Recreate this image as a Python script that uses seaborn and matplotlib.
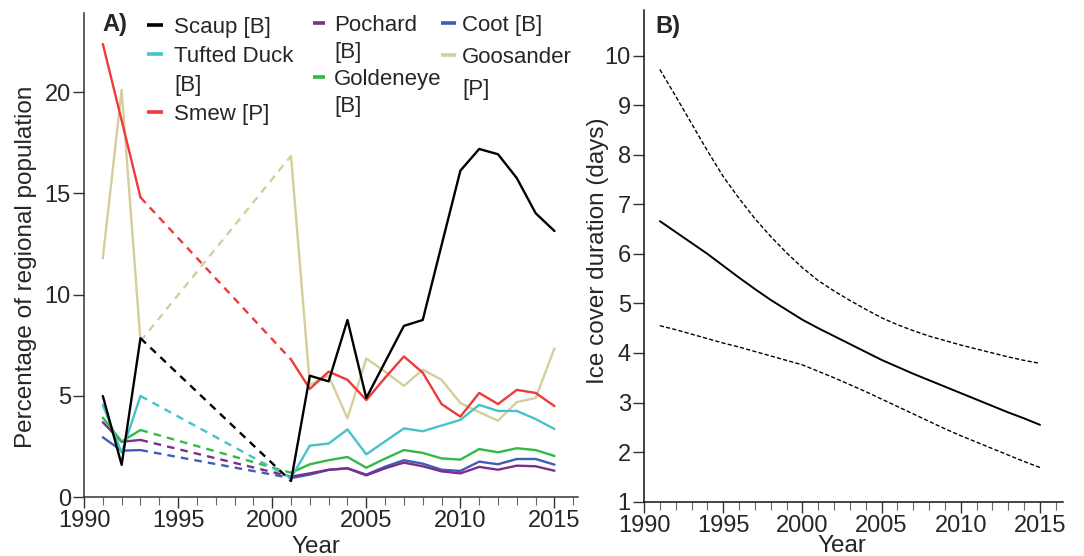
import matplotlib
matplotlib.use("Agg")
import matplotlib.pyplot as plt
import seaborn as sns
import pandas as pd
from matplotlib.lines import Line2D
from matplotlib.ticker import MultipleLocator

# ---------------- data ----------------
years = [1991, 1992, 1993, 2001, 2002, 2003, 2004, 2005, 2006, 2007, 2008,
         2009, 2010, 2011, 2012, 2013, 2014, 2015]
scaup = [5.0, 1.6, 7.85, 0.8, 6.0, 5.72, 8.75, 4.9, 6.68, 8.46, 8.75,
         12.44, 16.12, 17.19, 16.93, 15.75, 14.02, 13.14]
tufted = [4.56, 2.2, 5.0, 0.95, 2.55, 2.65, 3.35, 2.12, 2.76, 3.40, 3.26,
          3.54, 3.82, 4.56, 4.26, 4.26, 3.86, 3.37]
smew = [22.37, 18.6, 14.8, 6.8, 5.35, 6.2, 5.8, 4.8, 5.9, 6.95, 6.15,
        4.6, 3.98, 5.15, 4.6, 5.3, 5.15, 4.5]
pochard = [3.7, 2.74, 2.83, 1.02, 1.18, 1.36, 1.43, 1.08, 1.43, 1.71, 1.53,
           1.28, 1.18, 1.50, 1.36, 1.56, 1.53, 1.31]
goldeneye = [3.93, 2.75, 3.32, 1.21, 1.63, 1.83, 1.99, 1.46, 1.91, 2.33, 2.19,
             1.92, 1.86, 2.38, 2.22, 2.42, 2.33, 2.04]
coot = [2.96, 2.3, 2.33, 0.95, 1.12, 1.35, 1.43, 1.12, 1.51, 1.83, 1.66,
        1.36, 1.30, 1.76, 1.63, 1.89, 1.89, 1.61]
goosander = [11.8, 20.1, 7.7, 16.85, 5.55, 6.0, 3.9, 6.85, 6.2, 5.5, 6.3,
             5.8, 4.65, 4.2, 3.78, 4.7, 4.9, 7.35]

species_names = ["Scaup [B]", "Tufted Duck [B]", "Smew [P]", "Pochard [B]",
                 "Goldeneye [B]", "Coot [B]", "Goosander [P]"]
species_colors = ["#000000", "#45C3C8", "#EE3A3A", "#7D2E8D",
                  "#33B947", "#3F5DB6", "#D5CE9C"]

ice_years = list(range(1991, 2016))
ice_fit = [6.66, 6.44, 6.22, 6.00, 5.76, 5.52, 5.29, 5.07, 4.87, 4.67,
           4.50, 4.34, 4.18, 4.02, 3.86, 3.72, 3.58, 3.45, 3.32, 3.19,
           3.06, 2.93, 2.80, 2.68, 2.55]
ice_upper = [9.72, 9.18, 8.63, 8.08, 7.56, 7.12, 6.71, 6.35, 6.02, 5.72,
             5.46, 5.25, 5.06, 4.88, 4.71, 4.57, 4.45, 4.34, 4.25, 4.16,
             4.08, 4.00, 3.92, 3.85, 3.79]
ice_lower = [4.55, 4.47, 4.38, 4.29, 4.20, 4.12, 4.03, 3.94, 3.85, 3.76,
             3.63, 3.50, 3.36, 3.22, 3.07, 2.92, 2.77, 2.62, 2.47, 2.33,
             2.20, 2.07, 1.94, 1.81, 1.69]

# ---------------- style ----------------
sns.set_style("ticks")
plt.rcParams["font.family"] = ["Liberation Sans", "DejaVu Sans"]
plt.rcParams["axes.linewidth"] = 1.1

fig = plt.figure(figsize=(10.84, 5.56), dpi=100)
axA = fig.add_axes([0.0775, 0.1056, 0.4557, 0.8710])
axB = fig.add_axes([0.5941, 0.0977, 0.3865, 0.8844])

TICK_FS = 17
LABEL_FS = 17.5

# ---------------- panel A ----------------
series = [scaup, tufted, smew, pochard, goldeneye, coot, goosander]
draw_order = [6, 2, 5, 3, 4, 1, 0]
for i in draw_order:
    df = pd.DataFrame({"year": years, "value": series[i]})
    c = species_colors[i]
    for part, ls in ((df.iloc[0:3], "-"), (df.iloc[2:4], (0, (3.2, 2.6))),
                     (df.iloc[3:], "-")):
        sns.lineplot(data=part, x="year", y="value", color=c, lw=1.7,
                     ax=axA, estimator=None, sort=False, linestyle=ls)

axA.set_xlim(1990, 2016.25)
axA.set_ylim(0, 23.9)
axA.set_xticks([1990, 1995, 2000, 2005, 2010, 2015])
axA.xaxis.set_minor_locator(MultipleLocator(1))
axA.set_yticks([0, 5, 10, 15, 20])

# ---------------- panel B ----------------
dfB = pd.DataFrame({"year": ice_years, "fit": ice_fit,
                    "upper": ice_upper, "lower": ice_lower})
sns.lineplot(data=dfB, x="year", y="fit", color="black", lw=1.4, ax=axB)
sns.lineplot(data=dfB, x="year", y="upper", color="black", lw=1.0, ax=axB,
             linestyle=(0, (3, 1.6)))
sns.lineplot(data=dfB, x="year", y="lower", color="black", lw=1.0, ax=axB,
             linestyle=(0, (3, 1.6)))
axB.set_xlim(1990, 2016.45)
axB.set_ylim(1, 10.92)
axB.set_xticks([1990, 1995, 2000, 2005, 2010, 2015])
axB.xaxis.set_minor_locator(MultipleLocator(1))
axB.set_yticks(list(range(1, 11)))

for ax, spc in ((axA, "#333333"), (axB, "#111111")):
    sns.despine(ax=ax)
    for s in ("left", "bottom"):
        ax.spines[s].set_color(spc)
        ax.spines[s].set_linewidth(1.1)
    ax.tick_params(axis="both", which="major", labelsize=TICK_FS, length=8,
                   width=1.0, color="#333333", pad=1.5)
    ax.tick_params(axis="x", which="minor", length=5.5, width=0.8,
                   color="#666666")
    ax.tick_params(axis="y", which="minor", left=False)

axA.set_xlabel("Year", fontsize=LABEL_FS)
axA.xaxis.set_label_coords(0.47, -0.079)
axA.set_ylabel("Percentage of regional population", fontsize=LABEL_FS)
axA.yaxis.set_label_coords(-0.095, 0.475)

axB.set_xlabel("Year", fontsize=LABEL_FS)
axB.xaxis.set_label_coords(0.473, -0.068)
axB.set_ylabel("Ice cover duration (days)", fontsize=LABEL_FS)
axB.yaxis.set_label_coords(-0.083, 0.51)

fig.text(102 / 1084, 1 - 25 / 556, "A)", fontsize=17, fontweight="bold",
         va="center", ha="left")
fig.text(655 / 1084, 1 - 26 / 556, "B)", fontsize=17, fontweight="bold",
         va="center", ha="left")

# ---------------- legend (three columns) ----------------
def h(color):
    return Line2D([], [], color=color, lw=2.6, solid_capstyle="butt")

blank = Line2D([], [], color="none", lw=0)

fs = 16
px_per_em = fs * 100 / 72
# handles, labels, x of handle start (px), top (px), handle length (px),
# handle-text gap (px), row spacing (em)
col_specs = [
    ([h(species_colors[0]), h(species_colors[1]), blank, h(species_colors[2])],
     ["Scaup [B]", "Tufted Duck", "[B]", "Smew [P]"], 147, 17, 16, 11, 0.36),
    ([h(species_colors[3]), blank, h(species_colors[4]), blank],
     ["Pochard", "[B]", "Goldeneye", "[B]"], 313, 15, 12, 9, 0.27),
    ([h(species_colors[5]), h(species_colors[6]), blank],
     ["Coot [B]", "Goosander", "[P]"], 441, 15, 15, 6, 0.50),
]
for k, (handles, labels, x0, top, hlen, gap, ls) in enumerate(col_specs):
    leg = axA.legend(handles, labels, loc="upper left",
                     bbox_to_anchor=(x0 / 1084, 1 - top / 556),
                     bbox_transform=fig.transFigure, frameon=False,
                     fontsize=fs, handlelength=hlen / px_per_em,
                     handletextpad=gap / px_per_em, borderpad=0,
                     borderaxespad=0, labelspacing=ls)
    if k < len(col_specs) - 1:
        axA.add_artist(leg)

fig.savefig("out.png", dpi=100)
